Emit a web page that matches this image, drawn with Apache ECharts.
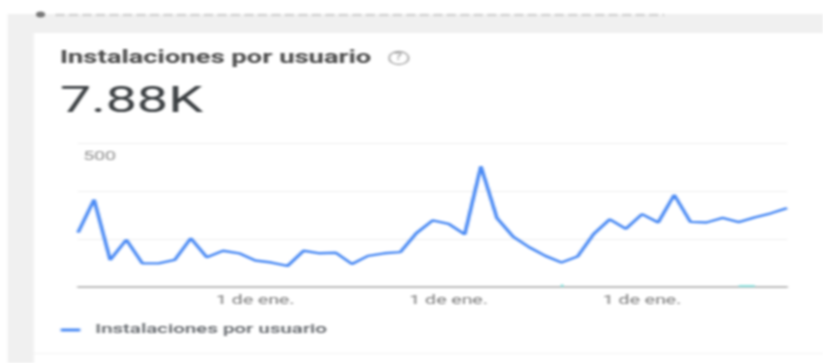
<!DOCTYPE html>
<html><head><meta charset="utf-8">
<style>html,body{margin:0;padding:0;background:#fff;overflow:hidden;width:823px;height:363px}
#c{width:549px;height:363px;transform-origin:0 0;transform:scaleX(1.49909);filter:blur(0.85px)}</style>
<script src="https://cdn.jsdelivr.net/npm/echarts@6/dist/echarts.min.js"></script></head>
<body><div id="c"></div>
<script>
const seriesName = 'Instalaciones por usuario';
const headline = '7.88K';
const tickLabel = '1 de ene.';
const tickIndexes = [11, 23, 35];
const values = [189,303,94,164,82,82,94,169,103,126,117,92,85,73,126,117,119,80,108,117,121,187,231,219,183,419,239,175,138,108,85,106,184,235,202,253,224,320,226,224,240,225,242,256,274];
const categories = values.map((_, i) => String(i));
const yTopTick = 500;
const chart = echarts.init(document.getElementById('c'), null, {renderer:'canvas'});
chart.setOption({
  animation:false,
  backgroundColor:'#fff',
  grid:{left:52,right:24,top:143,bottom:76},
  legend:{show:true,left:40.5,top:323,padding:0,icon:'rect',itemWidth:13,itemHeight:3,itemGap:8,
    textStyle:{fontFamily:'Roboto',fontSize:13.7,color:'#5f6368',fontWeight:500,padding:[0,0,0,5]},data:[seriesName]},
  xAxis:{type:'category',boundaryGap:false,data:categories,
    axisLine:{lineStyle:{color:'#a8a8a8',width:1.5}},axisTick:{show:false},
    axisLabel:{interval:(i)=>tickIndexes.includes(i),formatter:()=>tickLabel,margin:7,color:'#7a7a7a',fontFamily:'Roboto',fontSize:13}},
  yAxis:{type:'value',min:0,max:yTopTick,interval:yTopTick/3,
    axisLine:{show:false},axisTick:{show:false},
    splitLine:{lineStyle:{color:'#eeeeee',width:1}},
    axisLabel:{inside:true,margin:3.5,align:'left',verticalAlign:'top',padding:[7,0,0,0],color:'#8f8f8f',fontFamily:'Roboto',fontSize:13,
      formatter:(v)=>v===yTopTick?String(v):''}},
  series:[{name:seriesName,type:'line',data:values,symbol:'none',smooth:false,
    lineStyle:{color:'#4a8af4',width:2.4},itemStyle:{color:'#4a8af4'},
    markLine:{silent:true,symbol:'none',label:{show:false},lineStyle:{color:'#8fe3e0',width:2,type:'solid'},
      data:[[{xAxis:30,yAxis:0},{xAxis:30,yAxis:9}],[{xAxis:41,yAxis:4},{xAxis:42,yAxis:4}]]}}],
  graphic:[
    {type:'rect',z:-1,silent:true,shape:{x:5.3,y:14,width:544,height:349},style:{fill:'#f0f0f0'}},
    {type:'rect',z:-1,silent:true,shape:{x:22.5,y:33,width:527,height:330},style:{fill:'#fff'}},
    {type:'rect',z:-1,silent:true,shape:{x:22.5,y:353,width:527,height:1},style:{fill:'#f3f3f3'}},
    {type:'line',z:-1,silent:true,shape:{x1:37,y1:15,x2:443,y2:15},style:{stroke:'#d2d2d2',lineWidth:2.5,lineDash:[6,3]}},
    {type:'circle',z:-1,silent:true,shape:{cx:27,cy:14.5,r:3},style:{fill:'#777'}},
    {type:'text',left:40,top:49,style:{text:seriesName,font:'700 18.3px Roboto',fill:'#4a4a4a'}},
    {type:'text',left:40,top:84,style:{text:headline,font:'400 37px Roboto',fill:'#3c4043'}},
    {type:'circle',shape:{cx:266,cy:58,r:6.5},style:{fill:'none',stroke:'#a8a8a8',lineWidth:1.3}},
    {type:'text',left:263.3,top:52.5,style:{text:'?',font:'500 10px Roboto',fill:'#a0a0a0'}}
  ]
});
</script></body></html>
